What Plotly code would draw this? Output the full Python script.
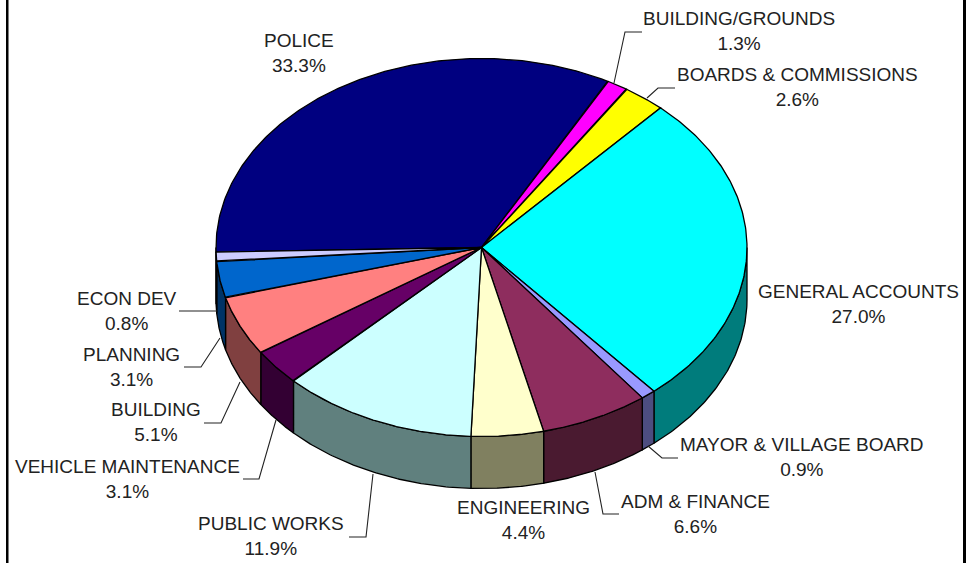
import numpy as np
import plotly.graph_objects as go

# ---- data, clockwise from the first slice ----
names = ["POLICE", "BUILDING/GROUNDS", "BOARDS &amp; COMMISSIONS", "GENERAL ACCOUNTS",
         "MAYOR &amp; VILLAGE BOARD", "ADM &amp; FINANCE", "ENGINEERING", "PUBLIC WORKS",
         "VEHICLE MAINTENANCE", "BUILDING", "PLANNING", "ECON DEV"]
values = [33.3, 1.3, 2.6, 27.0, 0.9, 6.6, 4.4, 11.9, 3.1, 5.1, 3.1, 0.8]

# ---- styles ----
top_colors = ["#000080", "#FF00FF", "#FFFF00", "#00FFFF", "#9999FF", "#8E2D5E",
              "#FFFFCC", "#CCFFFF", "#660066", "#FF8080", "#0066CC", "#CCCCFF"]
wall_colors = ["#000040", "#800080", "#808000", "#007C7C", "#4D4D80", "#4A1A30",
               "#808060", "#60807E", "#330033", "#804040", "#003366", "#666680"]

# ---- layout of the tilted pie, in page pixels ----
W, H = 966, 563
CX, CY, RX, RY, DEPTH = 481.5, 247.5, 265.5, 189, 52
START_DEG = 268.6

label_pos = [(299, 53), (739, 31), (797, 87), (858, 304), (802, 457), (695, 514),
             (523, 520), (271, 536), (127, 479), (156, 422), (131, 367), (127, 311)]
leaders = [None,
           [(614, 83), (625, 32), (642, 32)],
           [(647, 98), (658, 88), (675, 88)],
           None,
           [(648, 446), (662, 458), (678, 458)],
           [(595, 472), (603, 514), (619, 514)],
           None,
           [(373, 474), (366, 537), (349, 537)],
           [(276, 420), (259, 479), (243, 479)],
           [(240, 382), (221, 423), (204, 423)],
           [(220, 338), (201, 367), (184, 367)],
           [(217, 311), (179, 311)]]


def rim(deg, dy=0.0):
    a = np.radians(deg)
    return CX + RX * np.sin(a), CY - RY * np.cos(a) + dy


fig = go.Figure()
edges = START_DEG + np.concatenate([[0], np.cumsum(values)]) * 360 / sum(values)

# side walls: only the part of the rim facing the viewer
for i in range(len(values)):
    a0, a1 = edges[i], edges[i + 1]
    for lo, hi in ((90, 270), (450, 630)):
        s, e = max(a0, lo), min(a1, hi)
        if e <= s:
            continue
        t = np.linspace(s, e, 80)
        x1, y1 = rim(t)
        x2, y2 = rim(t[::-1], DEPTH)
        fig.add_trace(go.Scatter(
            x=np.r_[x1, x2, x1[0]], y=np.r_[y1, y2, y1[0]], mode="lines", fill="toself",
            fillcolor=wall_colors[i], line=dict(color="black", width=1.3),
            hoverinfo="skip", showlegend=False))

# top faces
for i in range(len(values)):
    t = np.linspace(edges[i], edges[i + 1], 160)
    x, y = rim(t)
    fig.add_trace(go.Scatter(
        x=np.r_[CX, x, CX], y=np.r_[CY, y, CY], mode="lines", fill="toself",
        fillcolor=top_colors[i], line=dict(color="black", width=1.3),
        name=names[i], hoverinfo="skip", showlegend=False))

# leader lines
for pts in leaders:
    if pts:
        fig.add_trace(go.Scatter(
            x=[p[0] for p in pts], y=[p[1] for p in pts], mode="lines",
            line=dict(color="#222222", width=1.1), hoverinfo="skip", showlegend=False))

# labels
for name, val, (lx, ly) in zip(names, values, label_pos):
    fig.add_annotation(x=lx, y=ly, text=f"{name}<br>{val:.1f}%", showarrow=False,
                       xanchor="center", yanchor="middle", align="center",
                       font=dict(family="Liberation Sans, Arial, sans-serif", size=19, color="#222222"))

# frame strips at the sides of the page
fig.add_shape(type="rect", x0=6, x1=8.5, y0=0, y1=H, fillcolor="black", line_width=0, layer="above")
fig.add_shape(type="rect", x0=963, x1=W, y0=0, y1=H, fillcolor="black", line_width=0, layer="above")

fig.update_layout(
    width=W, height=H, margin=dict(l=0, r=0, t=0, b=0),
    paper_bgcolor="white", plot_bgcolor="white", showlegend=False,
    xaxis=dict(range=[0, W], visible=False, fixedrange=True),
    yaxis=dict(range=[H, 0], visible=False, fixedrange=True),
)
fig.write_html("out.html", config={"displayModeBar": False},
               post_script="document.body.style.margin='0';document.body.style.overflow='hidden';")
